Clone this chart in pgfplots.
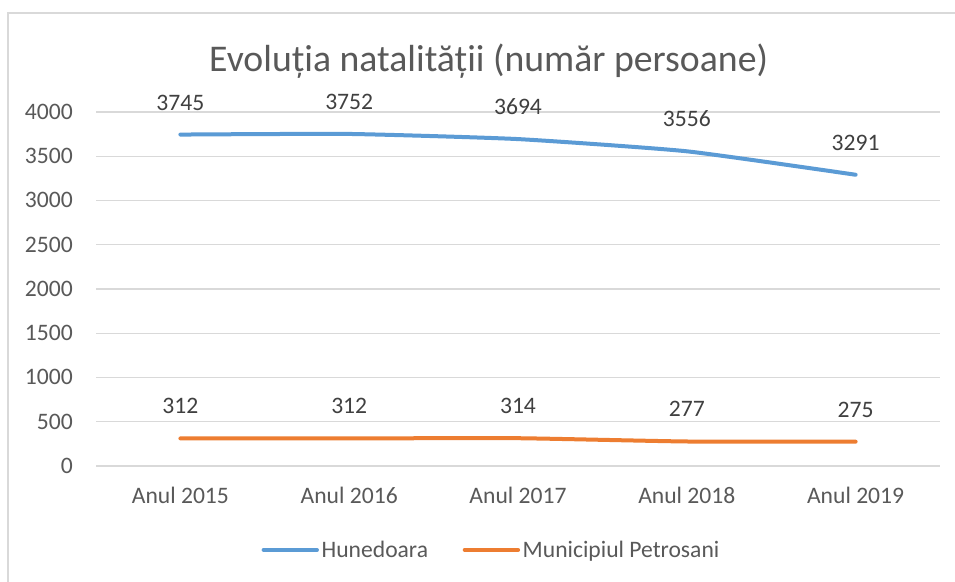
\documentclass[border=0pt]{standalone}
\usepackage{fontspec}
\setmainfont{Carlito}
\usepackage{pgfplots}
\pgfplotsset{compat=1.18}
\definecolor{hblue}{HTML}{5B9BD5}
\definecolor{porange}{HTML}{ED7D31}
\definecolor{txtgray}{HTML}{595959}
\definecolor{lblgray}{HTML}{404040}
\definecolor{gridgray}{HTML}{D9D9D9}
\begin{document}
\begin{tikzpicture}
\useasboundingbox (0,0) rectangle (716.25pt,-435.75pt);
\fill[white] (0,0) rectangle (716.25pt,-435.75pt);
\draw[gridgray, line width=1.1pt] (6pt,-440pt) -- (6pt,-9.75pt) -- (720pt,-9.75pt);
\node[txtgray, font=\fontsize{28.3}{34}\selectfont, anchor=center] at (366.5pt,-45.5pt) {Evoluția natalității (număr persoane)};
\begin{axis}[
  at={(72pt,-349.5pt)}, anchor=south west,
  scale only axis, width=633pt, height=265.5pt,
  xmin=-0.5, xmax=4.5, ymin=0, ymax=4000,
  xtick={0,1,2,3,4},
  xticklabels={Anul 2015,Anul 2016,Anul 2017,Anul 2018,Anul 2019},
  ytick={0,500,...,4000},
  ymajorgrids, grid style={gridgray, line width=1pt},
  axis line style={draw=none},
  major tick length=0pt,
  /pgf/number format/assume math mode=true,
  /pgf/number format/1000 sep={},
  tick label style={font=\fontsize{17.7}{21}\selectfont, text=txtgray, inner sep=0pt},
  yticklabel style={anchor=base east, xshift=-17.25pt, yshift=-5.5pt},
  xticklabel style={anchor=base, yshift=-28.1pt},
  nodes near coords,
  every node near coord/.append style={font=\fontsize{17.7}{21}\selectfont, text=lblgray, anchor=base, yshift=18.4pt, inner sep=0pt},
  legend style={at={(0.469,-0.237)}, anchor=center, draw=none, fill=none, inner sep=0pt,
    legend columns=2, font=\fontsize{17.7}{21}\selectfont, text=txtgray,
    nodes={inner sep=2pt},
    /tikz/every even column/.append style={column sep=24pt}},
  legend image code/.code={\draw[#1, line cap=round] (0pt,0pt) -- (40pt,0pt);},
  clip=false,
]
\addplot[hblue, line width=3pt, line cap=round, smooth, tension=0.3] coordinates {(0,3745) (1,3752) (2,3694) (3,3556) (4,3291)};
\addlegendentry{Hunedoara}
\addplot[porange, line width=3pt, line cap=round, smooth, tension=0.3] coordinates {(0,312) (1,312) (2,314) (3,277) (4,275)};
\addlegendentry{Municipiul Petrosani}
\end{axis}
\end{tikzpicture}
\end{document}
